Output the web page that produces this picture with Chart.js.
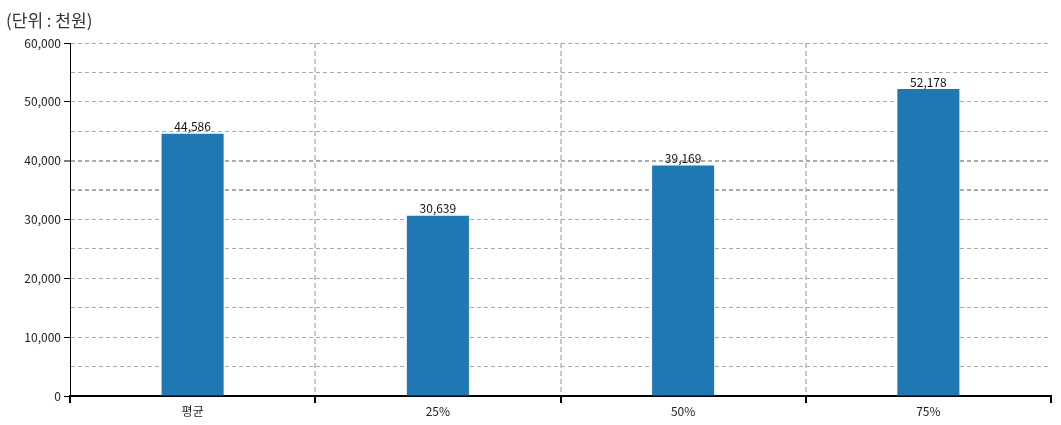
<!DOCTYPE html>
<html>
<head>
<meta charset="utf-8">
<script src="https://cdn.jsdelivr.net/npm/chart.js@4/dist/chart.umd.min.js"></script>
<style>
    body{ margin:0; background:#fff; }
    #wrap{ position:relative; width:1061px; height:425px; }
    #unit{
        position:absolute; left:6px; top:8px;
        font-family:"Noto Sans CJK KR", sans-serif; font-size:17px; color:#333;
        line-height:24px;
    }
</style>
</head>
<body>
<div id="wrap">
    <div id="unit">(단위 : 천원)</div>
    <canvas id="salaryChart" width="1061" height="425"></canvas>
</div>
<script>
const categories = ["평균", "25%", "50%", "75%"];
const values = [44586, 30639, 39169, 52178];
const yTicks = [0, 10000, 20000, 30000, 40000, 50000, 60000];

const FONT = "'Noto Sans CJK KR', sans-serif";

/* VALUE LABELS ABOVE BARS */
const valueLabels = {
    id: "valueLabels",
    afterDatasetsDraw(chart){
        let ctx = chart.ctx;
        let meta = chart.getDatasetMeta(0);
        ctx.save();
        ctx.font = "12px " + FONT;
        ctx.fillStyle = "#111";
        ctx.textAlign = "center";
        ctx.textBaseline = "bottom";
        meta.data.forEach((bar, i) => {
            ctx.fillText(values[i].toLocaleString("en-US"), bar.x, bar.y - 1);
        });
        ctx.restore();
    }
};

new Chart(document.getElementById("salaryChart"), {
    type: "bar",
    data: {
        labels: categories,
        datasets: [{
            data: values,
            backgroundColor: "#1f77b4",
            categoryPercentage: 1,
            barPercentage: 0.253
        }]
    },
    options: {
        responsive: false,
        animation: false,
        layout: { padding: { top: 43, right: 10, left: 0, bottom: 0 } },
        plugins: {
            legend: { display: false },
            tooltip: { enabled: false }
        },
        scales: {
            x: {
                offset: true,
                afterFit: s => { s.height = 29; },
                grid: {
                    offset: true,
                    color: c => c.type === "tick" && c.index > 0 ? "#c8c8c8" : "transparent",
                    lineWidth: 2,
                    tickColor: "#000",
                    tickWidth: 2,
                    tickLength: 7
                },
                border: { color: "#000", width: 2, dash: [5, 3] },
                ticks: {
                    color: "#222",
                    padding: 1,
                    font: { family: FONT, size: 12 }
                }
            },
            y: {
                min: 0,
                max: 60000,
                afterFit: s => { s.width = 70; },
                grid: {
                    color: "#aaa",
                    lineWidth: c => (c.tick && (c.tick.value === 35000 || c.tick.value === 40000)) ? 2 : 1,
                    tickColor: c => (c.tick && yTicks.includes(c.tick.value)) ? "#000" : "transparent",
                    tickWidth: 1,
                    tickLength: 6
                },
                border: { color: "#000", width: 1, dash: [4, 3] },
                ticks: {
                    stepSize: 5000,
                    autoSkip: false,
                    color: "#222",
                    padding: 3,
                    font: { family: FONT, size: 12 },
                    callback: v => yTicks.includes(v) ? v.toLocaleString("en-US") : ""
                }
            }
        }
    },
    plugins: [valueLabels]
});
</script>
</body>
</html>
